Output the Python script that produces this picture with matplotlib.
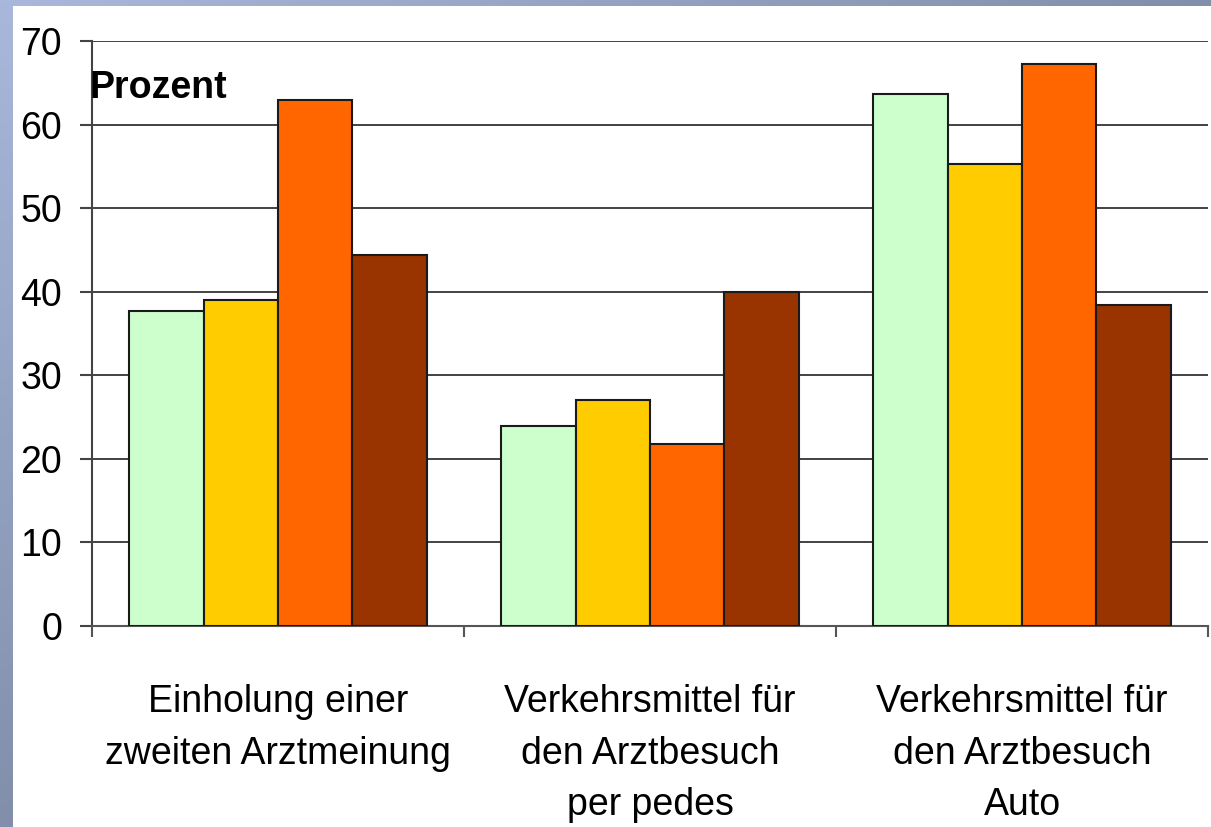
import numpy as np
import matplotlib
matplotlib.use('Agg')
import matplotlib.pyplot as plt

plt.rcParams['font.family'] = ['Liberation Sans', 'DejaVu Sans']

# data (percent)
categories = ['Einholung einer\nzweiten Arztmeinung',
              'Verkehrsmittel für\nden Arztbesuch\nper pedes',
              'Verkehrsmittel für\nden Arztbesuch\nAuto']
series_1 = [37.7, 23.9, 63.7]
series_2 = [39.0, 27.0, 55.3]
series_3 = [62.9, 21.8, 67.2]
series_4 = [44.4, 40.0, 38.4]
colors = ['#CCFFCC', '#FFCC00', '#FF6600', '#993300']
yticks = [0, 10, 20, 30, 40, 50, 60, 70]

fig = plt.figure(figsize=(12.11, 8.27), dpi=100)

# blue-grey slide frame on the left/top edge
bg = fig.add_axes([0, 0, 1, 1], zorder=-10)
h, w = 827, 1211
yy, xx = np.mgrid[0:h, 0:w]
t = np.clip(xx / w + yy / h, 0, 1)[..., None]
light = np.array([0.66, 0.72, 0.86])
dark = np.array([0.51, 0.56, 0.67])
img = light * (1 - t) + dark * t
img[6:, 13:] = 1.0
bg.imshow(img, aspect='auto', interpolation='nearest')
bg.axis('off')

ax = fig.add_axes([92 / 1211, 1 - 626 / 827, 1116 / 1211, 585 / 827])
x = np.arange(len(categories))
width = 0.2
for i, vals in enumerate([series_1, series_2, series_3, series_4]):
    ax.bar(x + (i - 1.5) * width, vals, width, color=colors[i],
           edgecolor='#1a1a1a', linewidth=1.5, zorder=3)

ax.set_xlim(-0.5, 2.5)
ax.set_ylim(0, 70)
ax.set_yticks(yticks)
ax.yaxis.grid(True, color='#222222', linewidth=1.2, zorder=0)
ax.set_axisbelow(True)
for s in ['top', 'right']:
    ax.spines[s].set_visible(False)
ax.spines['left'].set_color('#444444')
ax.spines['bottom'].set_color('#555555')
ax.spines['left'].set_linewidth(1.5)
ax.spines['bottom'].set_linewidth(1.5)

ax.set_xticks([-0.5, 0.5, 1.5, 2.5])
ax.set_xticklabels([])
ax.set_xticks(x, minor=True)
ax.set_xticklabels(categories, minor=True, fontsize=27, linespacing=1.55)
ax.tick_params(axis='x', which='major', length=8, width=1.5, color='#555555')
ax.tick_params(axis='x', which='minor', length=0, pad=42)
ax.tick_params(axis='y', length=8.6, width=1.5, color='#444444', labelsize=27, pad=13)

ax.text(-0.002, 0.92, 'Prozent', transform=ax.transAxes, fontsize=27,
        fontweight='bold', va='center', ha='left', zorder=5)

fig.savefig('out.png', dpi=100)
